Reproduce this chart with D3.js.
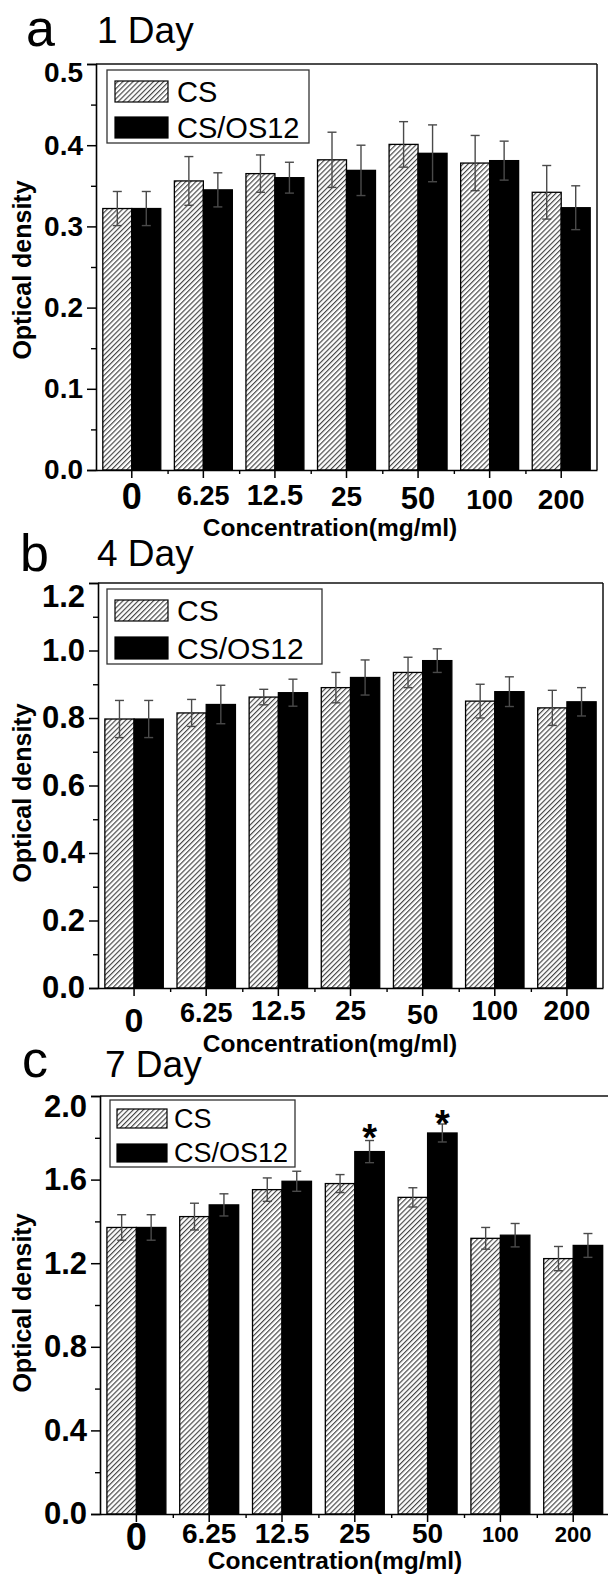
<!DOCTYPE html>
<html>
<head>
<meta charset="utf-8">
<script src="https://cdnjs.cloudflare.com/ajax/libs/d3/7.8.5/d3.min.js"></script>
<style>
  body { margin: 0; background: #fff; }
  svg { display: block; }
  text { font-family: "Liberation Sans", Arial, sans-serif; }
</style>
</head>
<body>
<svg id="fig" width="608" height="1576"></svg>
<script>
// ---- data ----
const categories = ["0", "6.25", "12.5", "25", "50", "100", "200"];
const series = ["CS", "CS/OS12"];

const day1CS = [0.322, 0.356, 0.365, 0.382, 0.401, 0.378, 0.342];
const day1CSErr = [0.021, 0.030, 0.023, 0.034, 0.028, 0.034, 0.033];
const day1OS = [0.322, 0.345, 0.360, 0.369, 0.390, 0.381, 0.323];
const day1OSErr = [0.021, 0.021, 0.019, 0.031, 0.035, 0.024, 0.027];

const day4CS = [0.797, 0.815, 0.862, 0.890, 0.935, 0.850, 0.830];
const day4CSErr = [0.055, 0.040, 0.023, 0.045, 0.045, 0.050, 0.052];
const day4OS = [0.797, 0.840, 0.875, 0.920, 0.970, 0.878, 0.848];
const day4OSErr = [0.055, 0.057, 0.040, 0.052, 0.035, 0.044, 0.042];

const day7CS = [1.371, 1.423, 1.552, 1.581, 1.515, 1.319, 1.222];
const day7CSErr = [0.061, 0.064, 0.056, 0.043, 0.046, 0.052, 0.058];
const day7OS = [1.371, 1.479, 1.592, 1.734, 1.823, 1.334, 1.285];
const day7OSErr = [0.061, 0.053, 0.048, 0.053, 0.043, 0.056, 0.057];
const day7Stars = [null, null, null, 1.837, 1.904, null, null]; // asterisk height over CS/OS12

const day1Ticks = [0, 0.1, 0.2, 0.3, 0.4, 0.5];
const day4Ticks = [0, 0.2, 0.4, 0.6, 0.8, 1.0, 1.2];
const day7Ticks = [0, 0.4, 0.8, 1.2, 1.6, 2.0];

const svg = d3.select("#fig");

// hatch for CS bars
const defs = svg.append("defs");
const pat = defs.append("pattern")
    .attr("id", "hatch")
    .attr("patternUnits", "userSpaceOnUse")
    .attr("width", 3.6).attr("height", 3.6)
    .attr("patternTransform", "rotate(45)");
pat.append("rect").attr("width", 3.6).attr("height", 3.6).attr("fill", "#fff");
pat.append("line").attr("x1", 0.6).attr("y1", 0).attr("x2", 0.6).attr("y2", 3.6)
    .attr("stroke", "#3a3a3a").attr("stroke-width", 1.1);

const panels = [
    {
        letter: "a", title: "1 Day", letterX: 26, letterY: 46, titleX: 97, titleY: 43,
        cs: day1CS, csErr: day1CSErr, os: day1OS, osErr: day1OSErr, stars: null,
        ticks: day1Ticks, max: 0.5,
        left: 96, right: 597, top: 64, bottom: 470, frameRight: 597,
        yLabelSize: 28, topShift: 9, yTitleY: 270,
        xLabelSize: [36, 27, 29, 28, 31, 28, 28],
        xLabelY: [509, 505, 505, 506, 509, 509, 509],
        xTitleX: 330, xTitleY: 536,
        legend: {x: 107, y: 70, w: 202, h: 73, sw: 115, sww: 53, r1: [81, 21], r2: [117, 21], tx: 177, size: 29}
    },
    {
        letter: "b", title: "4 Day", letterX: 20, letterY: 571, titleX: 97, titleY: 566,
        cs: day4CS, csErr: day4CSErr, os: day4OS, osErr: day4OSErr, stars: null,
        ticks: day4Ticks, max: 1.2,
        left: 98, right: 603, top: 583, bottom: 988, frameRight: 603,
        yLabelSize: 31, topShift: 14, yTitleY: 793,
        xLabelSize: [34, 27, 28, 28, 28, 28, 28],
        xLabelY: [1032, 1022, 1020, 1020, 1024, 1020, 1020],
        xTitleX: 330, xTitleY: 1052,
        legend: {x: 107, y: 589, w: 215, h: 75, sw: 115, sww: 53, r1: [600, 21], r2: [637, 22], tx: 177, size: 30}
    },
    {
        letter: "c", title: "7 Day", letterX: 22, letterY: 1077, titleX: 105, titleY: 1077,
        cs: day7CS, csErr: day7CSErr, os: day7OS, osErr: day7OSErr, stars: day7Stars,
        ticks: day7Ticks, max: 2.0,
        left: 100, right: 609.6, top: 1096, bottom: 1514, frameRight: 609.6,
        yLabelSize: 31, topShift: 11, yTitleY: 1303,
        xLabelSize: [38, 28, 28, 28, 28, 22, 22],
        xLabelY: [1550, 1543, 1543, 1543, 1543, 1542, 1542],
        xTitleX: 335, xTitleY: 1569,
        legend: {x: 110, y: 1100, w: 185, h: 67, sw: 117, sww: 50, r1: [1109, 19], r2: [1144, 18], tx: 174, size: 27}
    }
];

function drawPanel(p) {
    const g = svg.append("g");
    const x = d3.scaleBand().domain(categories).range([p.left, p.right]);
    const bw = x.bandwidth() * 0.405;
    const xs = d3.scaleBand().domain(series)
        .range([x.bandwidth() / 2 - bw, x.bandwidth() / 2 + bw]);
    const y = d3.scaleLinear().domain([0, p.max]).range([p.bottom, p.top]);

    // panel letter and day
    g.append("text").attr("x", p.letterX).attr("y", p.letterY)
        .attr("font-size", 52).text(p.letter);
    g.append("text").attr("x", p.titleX).attr("y", p.titleY)
        .attr("font-size", 37).text(p.title);

    // frame top/right
    g.append("line").attr("x1", p.left).attr("x2", Math.min(p.frameRight, 608))
        .attr("y1", p.top).attr("y2", p.top)
        .attr("stroke", "#111").attr("stroke-width", 1.5);
    g.append("line").attr("x1", p.frameRight).attr("x2", p.frameRight)
        .attr("y1", p.top).attr("y2", p.bottom)
        .attr("stroke", "#111").attr("stroke-width", 1.5);

    // bars
    const rows = categories.map((c, i) => [
        {c: c, s: "CS", v: p.cs[i], e: p.csErr[i]},
        {c: c, s: "CS/OS12", v: p.os[i], e: p.osErr[i]}
    ]).flat();

    g.selectAll("rect.bar").data(rows).enter().append("rect")
        .attr("class", "bar")
        .attr("x", d => x(d.c) + xs(d.s))
        .attr("y", d => y(d.v))
        .attr("width", xs.bandwidth())
        .attr("height", d => y(0) - y(d.v))
        .attr("fill", d => d.s === "CS" ? "url(#hatch)" : "#000")
        .attr("stroke", "#000")
        .attr("stroke-width", 1.3);

    // error bars
    const eb = g.selectAll("g.err").data(rows).enter().append("g")
        .attr("class", "err")
        .attr("stroke", "#4a4a4a").attr("stroke-width", 1.4);
    const cx = d => x(d.c) + xs(d.s) + xs.bandwidth() / 2;
    eb.append("line").attr("x1", cx).attr("x2", cx)
        .attr("y1", d => y(d.v - d.e)).attr("y2", d => y(d.v + d.e));
    eb.append("line").attr("x1", d => cx(d) - 4.5).attr("x2", d => cx(d) + 4.5)
        .attr("y1", d => y(d.v + d.e)).attr("y2", d => y(d.v + d.e));
    eb.append("line").attr("x1", d => cx(d) - 4.5).attr("x2", d => cx(d) + 4.5)
        .attr("y1", d => y(d.v - d.e)).attr("y2", d => y(d.v - d.e));

    // significance stars
    if (p.stars) {
        g.selectAll("text.star").data(categories.filter((c, i) => p.stars[i] != null))
            .enter().append("text")
            .attr("x", c => x(c) + xs("CS/OS12") + xs.bandwidth() / 2)
            .attr("y", c => y(p.stars[categories.indexOf(c)]) + 21)
            .attr("text-anchor", "middle")
            .attr("font-size", 38).attr("font-weight", "bold")
            .text("*");
    }

    // y axis
    const step = p.ticks[1] - p.ticks[0];
    const yAxis = g.append("g").attr("transform", `translate(${p.left},0)`)
        .call(d3.axisLeft(y).tickValues(p.ticks).tickSize(9).tickPadding(4)
            .tickFormat(d3.format(".1f")));
    yAxis.select(".domain").attr("stroke-width", 1.6);
    yAxis.selectAll(".tick line").attr("stroke-width", 1.5);
    yAxis.selectAll(".tick text")
        .attr("font-size", p.yLabelSize).attr("font-weight", "bold")
        .attr("font-family", "'Liberation Sans', Arial, sans-serif")
        .attr("fill", "#000")
        .attr("dy", (d, i, n) => i === n.length - 1 ? (0.32 * p.yLabelSize + p.topShift) + "px" : "0.32em");
    g.append("g").attr("transform", `translate(${p.left},0)`)
        .call(d3.axisLeft(y).tickValues(p.ticks.slice(1).map(t => t - step / 2))
            .tickSize(5).tickFormat(""))
        .call(a => a.select(".domain").remove())
        .selectAll(".tick line").attr("stroke-width", 1.4);

    // x axis
    const xAxis = g.append("g").attr("transform", `translate(0,${p.bottom})`)
        .call(d3.axisBottom(x).tickSize(8).tickSizeOuter(0).tickFormat(""));
    xAxis.select(".domain").attr("stroke-width", 1.6);
    xAxis.selectAll(".tick line").attr("stroke-width", 1.5);
    const xEdge = d3.scaleLinear().domain([0, categories.length]).range([p.left, p.right]);
    g.append("g").attr("transform", `translate(0,${p.bottom})`)
        .call(d3.axisBottom(xEdge).tickValues(d3.range(1, categories.length)).tickSize(4).tickFormat(""))
        .call(a => a.select(".domain").remove())
        .selectAll(".tick line").attr("stroke-width", 1.4);

    g.selectAll("text.xl").data(categories).enter().append("text")
        .attr("class", "xl")
        .attr("x", c => x(c) + x.bandwidth() / 2)
        .attr("y", (c, i) => p.xLabelY[i])
        .attr("text-anchor", "middle")
        .attr("font-weight", "bold")
        .attr("font-size", (c, i) => p.xLabelSize[i])
        .text(c => c);

    g.append("text").attr("x", p.xTitleX).attr("y", p.xTitleY)
        .attr("text-anchor", "middle").attr("font-weight", "bold").attr("font-size", 24.5)
        .text("Concentration(mg/ml)");

    g.append("text")
        .attr("transform", `translate(31,${p.yTitleY}) rotate(-90)`)
        .attr("text-anchor", "middle").attr("font-weight", "bold").attr("font-size", 25)
        .text("Optical density");

    // legend
    const L = p.legend;
    const lg = g.append("g");
    lg.append("rect").attr("x", L.x).attr("y", L.y).attr("width", L.w).attr("height", L.h)
        .attr("fill", "#fff").attr("stroke", "#333").attr("stroke-width", 1.3);
    const items = series.map((s, i) => ({s: s, r: i === 0 ? L.r1 : L.r2}));
    lg.selectAll("rect.sw").data(items).enter().append("rect")
        .attr("class", "sw")
        .attr("x", L.sw).attr("y", d => d.r[0])
        .attr("width", L.sww).attr("height", d => d.r[1])
        .attr("fill", d => d.s === "CS" ? "url(#hatch)" : "#000")
        .attr("stroke", "#000").attr("stroke-width", 1.2);
    lg.selectAll("text.lt").data(items).enter().append("text")
        .attr("class", "lt")
        .attr("x", L.tx).attr("y", d => d.r[0] + d.r[1])
        .attr("font-size", L.size)
        .text(d => d.s);
}

panels.forEach(drawPanel);
</script>
</body>
</html>
